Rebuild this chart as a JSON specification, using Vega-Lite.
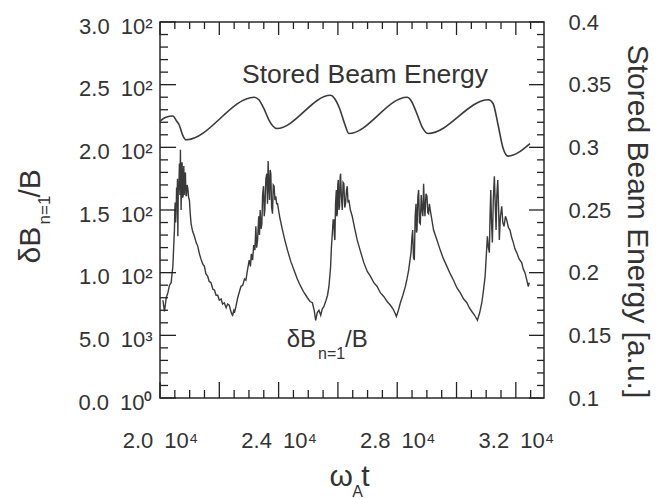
{
  "$schema": "https://vega.github.io/schema/vega-lite/v6.json",
  "width": 384,
  "height": 376,
  "autosize": "none",
  "padding": {"left": 160, "top": 22, "right": 123, "bottom": 101},
  "background": "white",
  "config": {
    "view": {"stroke": "#2a2a2a", "strokeWidth": 1.5},
    "font": "Liberation Sans",
    "axis": {
      "domain": false, "grid": false, "ticks": false,
      "labelColor": "#333", "titleColor": "#333", "labelFont": "Liberation Sans",
      "titleFont": "Liberation Sans", "titleFontWeight": "normal", "labelFontSize": 22,
      "labelOverlap": false, "labelFlush": false, "titleAnchor": null
    }
  },
  "datasets": {
    "db": [
      {"t":20097,"v":0.78},{"t":20151,"v":0.69},{"t":20210,"v":0.80},{"t":20266,"v":0.84},{"t":20320,"v":0.90},{"t":20376,"v":0.92},{"t":20410,"v":1.00},{"t":20434,"v":1.05},{"t":20460,"v":1.20},{"t":20487,"v":1.34},{"t":20500,"v":1.50},{"t":20511,"v":1.56},{"t":20528,"v":1.40},{"t":20544,"v":1.48},{"t":20560,"v":1.68},{"t":20578,"v":1.61},{"t":20590,"v":1.75},{"t":20602,"v":1.29},{"t":20618,"v":1.72},{"t":20635,"v":1.66},{"t":20655,"v":1.87},{"t":20672,"v":1.62},{"t":20689,"v":1.98},{"t":20700,"v":1.70},{"t":20713,"v":1.50},{"t":20730,"v":1.85},{"t":20746,"v":1.88},{"t":20762,"v":1.60},{"t":20780,"v":1.61},{"t":20792,"v":1.80},{"t":20803,"v":1.85},{"t":20815,"v":1.62},{"t":20823,"v":1.66},{"t":20840,"v":1.78},{"t":20857,"v":1.80},{"t":20874,"v":1.62},{"t":20891,"v":1.61},{"t":20915,"v":1.70},{"t":20938,"v":1.67},{"t":20965,"v":1.60},{"t":20991,"v":1.58},{"t":21020,"v":1.47},{"t":21049,"v":1.39},{"t":21100,"v":1.33},{"t":21160,"v":1.29},{"t":21220,"v":1.24},{"t":21274,"v":1.21},{"t":21330,"v":1.15},{"t":21380,"v":1.11},{"t":21440,"v":1.07},{"t":21496,"v":1.05},{"t":21550,"v":0.99},{"t":21610,"v":0.97},{"t":21660,"v":0.93},{"t":21721,"v":0.92},{"t":21780,"v":0.87},{"t":21840,"v":0.86},{"t":21890,"v":0.82},{"t":21946,"v":0.82},{"t":22000,"v":0.78},{"t":22060,"v":0.79},{"t":22110,"v":0.75},{"t":22168,"v":0.76},{"t":22230,"v":0.72},{"t":22280,"v":0.75},{"t":22336,"v":0.74},{"t":22380,"v":0.70},{"t":22420,"v":0.67},{"t":22450,"v":0.66},{"t":22490,"v":0.70},{"t":22520,"v":0.69},{"t":22561,"v":0.73},{"t":22620,"v":0.80},{"t":22680,"v":0.85},{"t":22729,"v":0.89},{"t":22790,"v":0.90},{"t":22850,"v":0.95},{"t":22897,"v":0.94},{"t":22950,"v":1.02},{"t":23008,"v":1.10},{"t":23050,"v":1.05},{"t":23080,"v":1.15},{"t":23122,"v":1.10},{"t":23160,"v":1.22},{"t":23200,"v":1.18},{"t":23233,"v":1.37},{"t":23260,"v":1.20},{"t":23290,"v":1.26},{"t":23330,"v":1.45},{"t":23355,"v":1.30},{"t":23378,"v":1.50},{"t":23410,"v":1.35},{"t":23435,"v":1.39},{"t":23460,"v":1.62},{"t":23492,"v":1.69},{"t":23515,"v":1.45},{"t":23536,"v":1.50},{"t":23570,"v":1.75},{"t":23603,"v":1.79},{"t":23625,"v":1.55},{"t":23647,"v":1.89},{"t":23670,"v":1.70},{"t":23694,"v":1.58},{"t":23715,"v":1.82},{"t":23737,"v":1.79},{"t":23765,"v":1.52},{"t":23795,"v":1.47},{"t":23820,"v":1.70},{"t":23848,"v":1.69},{"t":23875,"v":1.58},{"t":23905,"v":1.61},{"t":23935,"v":1.55},{"t":23963,"v":1.55},{"t":24040,"v":1.44},{"t":24131,"v":1.34},{"t":24210,"v":1.26},{"t":24299,"v":1.18},{"t":24410,"v":1.09},{"t":24521,"v":1.02},{"t":24630,"v":0.95},{"t":24746,"v":0.89},{"t":24860,"v":0.84},{"t":24971,"v":0.80},{"t":25060,"v":0.77},{"t":25139,"v":0.76},{"t":25200,"v":0.70},{"t":25250,"v":0.62},{"t":25300,"v":0.68},{"t":25361,"v":0.70},{"t":25420,"v":0.66},{"t":25470,"v":0.71},{"t":25529,"v":0.73},{"t":25600,"v":0.78},{"t":25650,"v":0.82},{"t":25697,"v":0.89},{"t":25730,"v":0.98},{"t":25754,"v":1.05},{"t":25780,"v":1.20},{"t":25811,"v":1.31},{"t":25840,"v":1.42},{"t":25865,"v":1.42},{"t":25880,"v":1.30},{"t":25898,"v":1.26},{"t":25920,"v":1.55},{"t":25946,"v":1.66},{"t":25962,"v":1.45},{"t":25979,"v":1.47},{"t":25995,"v":1.70},{"t":26013,"v":1.74},{"t":26035,"v":1.50},{"t":26057,"v":1.53},{"t":26075,"v":1.76},{"t":26090,"v":1.79},{"t":26115,"v":1.62},{"t":26147,"v":1.50},{"t":26175,"v":1.72},{"t":26201,"v":1.71},{"t":26230,"v":1.52},{"t":26258,"v":1.55},{"t":26290,"v":1.66},{"t":26315,"v":1.69},{"t":26340,"v":1.56},{"t":26369,"v":1.58},{"t":26420,"v":1.50},{"t":26483,"v":1.45},{"t":26560,"v":1.36},{"t":26651,"v":1.26},{"t":26760,"v":1.17},{"t":26873,"v":1.08},{"t":26990,"v":1.01},{"t":27098,"v":0.97},{"t":27210,"v":0.92},{"t":27323,"v":0.89},{"t":27430,"v":0.84},{"t":27545,"v":0.81},{"t":27660,"v":0.77},{"t":27771,"v":0.74},{"t":27860,"v":0.71},{"t":27920,"v":0.68},{"t":27972,"v":0.65},{"t":28040,"v":0.70},{"t":28107,"v":0.76},{"t":28190,"v":0.82},{"t":28275,"v":0.89},{"t":28330,"v":0.95},{"t":28386,"v":1.02},{"t":28430,"v":1.10},{"t":28466,"v":1.16},{"t":28495,"v":1.28},{"t":28520,"v":1.34},{"t":28550,"v":1.12},{"t":28577,"v":1.10},{"t":28605,"v":1.45},{"t":28634,"v":1.55},{"t":28650,"v":1.32},{"t":28668,"v":1.34},{"t":28695,"v":1.60},{"t":28722,"v":1.66},{"t":28750,"v":1.40},{"t":28779,"v":1.39},{"t":28810,"v":1.62},{"t":28836,"v":1.50},{"t":28865,"v":1.45},{"t":28890,"v":1.71},{"t":28915,"v":1.52},{"t":28937,"v":1.45},{"t":28970,"v":1.63},{"t":29004,"v":1.61},{"t":29030,"v":1.48},{"t":29058,"v":1.47},{"t":29085,"v":1.55},{"t":29115,"v":1.50},{"t":29170,"v":1.42},{"t":29226,"v":1.34},{"t":29340,"v":1.26},{"t":29451,"v":1.18},{"t":29560,"v":1.11},{"t":29676,"v":1.05},{"t":29790,"v":0.99},{"t":29898,"v":0.94},{"t":30010,"v":0.88},{"t":30123,"v":0.84},{"t":30240,"v":0.79},{"t":30348,"v":0.76},{"t":30430,"v":0.72},{"t":30517,"v":0.69},{"t":30610,"v":0.66},{"t":30705,"v":0.62},{"t":30780,"v":0.68},{"t":30853,"v":0.76},{"t":30910,"v":0.86},{"t":30964,"v":0.97},{"t":31000,"v":1.12},{"t":31041,"v":1.29},{"t":31075,"v":1.20},{"t":31108,"v":1.16},{"t":31130,"v":1.45},{"t":31155,"v":1.66},{"t":31180,"v":1.40},{"t":31209,"v":1.24},{"t":31240,"v":1.58},{"t":31276,"v":1.77},{"t":31305,"v":1.55},{"t":31334,"v":1.34},{"t":31360,"v":1.62},{"t":31391,"v":1.74},{"t":31420,"v":1.50},{"t":31444,"v":1.26},{"t":31480,"v":1.45},{"t":31525,"v":1.53},{"t":31560,"v":1.40},{"t":31602,"v":1.37},{"t":31650,"v":1.45},{"t":31693,"v":1.42},{"t":31750,"v":1.36},{"t":31804,"v":1.34},{"t":31860,"v":1.28},{"t":31915,"v":1.24},{"t":31970,"v":1.19},{"t":32029,"v":1.16},{"t":32110,"v":1.11},{"t":32197,"v":1.08},{"t":32250,"v":1.03},{"t":32308,"v":1.00},{"t":32360,"v":0.95},{"t":32419,"v":0.89},{"t":32453,"v":0.92}
    ],
    "energy": [
      {"t":20000,"e":0.321},{"t":20200,"e":0.324},{"t":20434,"e":0.325},{"t":20560,"e":0.321},{"t":20645,"e":0.318},{"t":20760,"e":0.310},{"t":20880,"e":0.306},{"t":23176,"e":0.340},{"t":23334,"e":0.338},{"t":23502,"e":0.331},{"t":23670,"e":0.322},{"t":23805,"e":0.317},{"t":23940,"e":0.315},{"t":25754,"e":0.3415},{"t":25888,"e":0.339},{"t":26056,"e":0.331},{"t":26224,"e":0.319},{"t":26369,"e":0.311},{"t":28332,"e":0.340},{"t":28476,"e":0.337},{"t":28644,"e":0.328},{"t":28846,"e":0.316},{"t":29048,"e":0.311},{"t":31074,"e":0.338},{"t":31232,"e":0.335},{"t":31400,"e":0.318},{"t":31568,"e":0.2995},{"t":31736,"e":0.293},{"t":32476,"e":0.303}
    ],
    "energyLabel": [{"t":26914,"e":0.351,"label":"Stored Beam Energy"}],
    "dbLabel": [
      {"t":24273,"v":0.409,"label":"δB"},
      {"t":25329,"v":0.311,"label":"n=1"},
      {"t":26240,"v":0.409,"label":"/B"}
    ],
    "xticks": [
      {"t":20000,"major":true},{"t":20500,"major":false},{"t":21000,"major":false},{"t":21500,"major":false},{"t":22000,"major":true},{"t":22500,"major":false},{"t":23000,"major":false},{"t":23500,"major":false},{"t":24000,"major":true},{"t":24500,"major":false},{"t":25000,"major":false},{"t":25500,"major":false},{"t":26000,"major":true},{"t":26500,"major":false},{"t":27000,"major":false},{"t":27500,"major":false},{"t":28000,"major":true},{"t":28500,"major":false},{"t":29000,"major":false},{"t":29500,"major":false},{"t":30000,"major":true},{"t":30500,"major":false},{"t":31000,"major":false},{"t":31500,"major":false},{"t":32000,"major":true},{"t":32500,"major":false}
    ],
    "yleftTicks": [
      {"v":0,"major":true},{"v":0.1,"major":false},{"v":0.2,"major":false},{"v":0.3,"major":false},{"v":0.4,"major":false},{"v":0.5,"major":true},{"v":0.6,"major":false},{"v":0.7,"major":false},{"v":0.8,"major":false},{"v":0.9,"major":false},{"v":1.0,"major":true},{"v":1.1,"major":false},{"v":1.2,"major":false},{"v":1.3,"major":false},{"v":1.4,"major":false},{"v":1.5,"major":true},{"v":1.6,"major":false},{"v":1.7,"major":false},{"v":1.8,"major":false},{"v":1.9,"major":false},{"v":2.0,"major":true},{"v":2.1,"major":false},{"v":2.2,"major":false},{"v":2.3,"major":false},{"v":2.4,"major":false},{"v":2.5,"major":true},{"v":2.6,"major":false},{"v":2.7,"major":false},{"v":2.8,"major":false},{"v":2.9,"major":false},{"v":3.0,"major":true}
    ],
    "yrightTicks": [
      {"e":0.10,"major":true},{"e":0.11,"major":false},{"e":0.12,"major":false},{"e":0.13,"major":false},{"e":0.14,"major":false},{"e":0.15,"major":true},{"e":0.16,"major":false},{"e":0.17,"major":false},{"e":0.18,"major":false},{"e":0.19,"major":false},{"e":0.20,"major":true},{"e":0.21,"major":false},{"e":0.22,"major":false},{"e":0.23,"major":false},{"e":0.24,"major":false},{"e":0.25,"major":true},{"e":0.26,"major":false},{"e":0.27,"major":false},{"e":0.28,"major":false},{"e":0.29,"major":false},{"e":0.30,"major":true},{"e":0.31,"major":false},{"e":0.32,"major":false},{"e":0.33,"major":false},{"e":0.34,"major":false},{"e":0.35,"major":true},{"e":0.36,"major":false},{"e":0.37,"major":false},{"e":0.38,"major":false},{"e":0.39,"major":false},{"e":0.40,"major":true}
    ]
  },
  "resolve": {"scale": {"y": "independent"}, "axis": {"x": "independent", "y": "independent"}},
  "layer": [
    {
      "data": {"name": "db"},
      "mark": {"type": "line", "color": "#3a3a3a", "strokeWidth": 1.4},
      "encoding": {
        "x": {
          "field": "t", "type": "quantitative",
          "scale": {"domain": [20000, 32950], "nice": false, "zero": false},
          "axis": {
            "orient": "bottom", "ticks": false, "domain": false,
            "values": [20000,24000,28000,32000],
            "labelExpr": "format(datum.value/10000, '.1f') + '\u200210⁴'",
            "labelPadding": 32, "labelBaseline": "top",
            "title": "ω\u00a0t", "titleFontSize": 30, "titleX": 189, "titleY": 87,
            "titleBaseline": "alphabetic", "titleAlign": "center"
          }
        },
        "y": {
          "field": "v", "type": "quantitative",
          "scale": {"domain": [0, 3], "nice": false},
          "axis": {
            "orient": "left", "ticks": false, "domain": false,
            "values": [0,0.5,1.0,1.5,2.0,2.5,3.0],
            "labelExpr": "datum.value == 0 ? '0.0\u200210⁰' : (abs(datum.value - 0.5) < 0.001 ? '5.0\u200210³' : format(datum.value, '.1f') + '\u200210²')",
            "labelPadding": 8, "labelOffset": 4,
            "title": "δB", "titleFontSize": 30, "titleX": -121, "titleY": 241,
            "titleAngle": -90, "titleBaseline": "alphabetic", "titleAlign": "left"
          }
        }
      }
    },
    {
      "data": {"name": "energy"},
      "mark": {"type": "line", "color": "#3a3a3a", "strokeWidth": 1.6, "interpolate": "monotone"},
      "encoding": {
        "x": {"field": "t", "type": "quantitative", "scale": {"domain": [20000, 32950], "nice": false, "zero": false}, "axis": null},
        "y": {
          "field": "e", "type": "quantitative",
          "scale": {"domain": [0.1, 0.4], "nice": false, "zero": false},
          "axis": {
            "orient": "right", "ticks": false, "domain": false,
            "values": [0.1,0.15,0.2,0.25,0.3,0.35,0.4],
            "labelExpr": "format(datum.value, '~g')",
            "labelPadding": 24,
            "title": "Stored Beam Energy [a.u.]", "titleFontSize": 30, "titleX": 83, "titleY": 199,
            "titleAngle": 90, "titleBaseline": "alphabetic", "titleAlign": "center"
          }
        }
      }
    },
    {
      "data": {"name": "energyLabel"},
      "mark": {"type": "text", "align": "center", "baseline": "alphabetic", "fontSize": 26.5, "color": "#333", "font": "Liberation Sans"},
      "encoding": {
        "x": {
          "field": "t", "type": "quantitative",
          "scale": {"domain": [20000, 32950], "nice": false, "zero": false},
          "axis": {
            "orient": "bottom", "ticks": false, "labels": false, "domain": false,
            "title": "A", "titleFontSize": 16, "titleX": 197, "titleY": 98,
            "titleBaseline": "alphabetic", "titleAlign": "center"
          }
        },
        "y": {
          "field": "e", "type": "quantitative",
          "scale": {"domain": [0.1, 0.4], "nice": false, "zero": false},
          "axis": {
            "orient": "left", "domain": false, "ticks": false, "labels": false,
            "title": "/B", "titleFontSize": 30, "titleX": -121, "titleY": 175,
            "titleAngle": -90, "titleBaseline": "alphabetic", "titleAlign": "left"
          }
        },
        "text": {"field": "label"}
      }
    },
    {
      "data": {"name": "dbLabel"},
      "mark": {"type": "text", "align": "left", "baseline": "alphabetic", "color": "#333", "font": "Liberation Sans"},
      "encoding": {
        "x": {"field": "t", "type": "quantitative", "scale": {"domain": [20000, 32950], "nice": false, "zero": false}, "axis": null},
        "y": {
          "field": "v", "type": "quantitative",
          "scale": {"domain": [0, 3], "nice": false},
          "axis": {
            "orient": "left", "domain": false, "ticks": false, "labels": false,
            "title": "n=1", "titleFontSize": 17, "titleX": -111, "titleY": 202,
            "titleAngle": -90, "titleBaseline": "alphabetic", "titleAlign": "left"
          }
        },
        "text": {"field": "label"},
        "size": {"condition": {"test": "datum.label === 'n=1'", "value": 16}, "value": 24}
      }
    },
    {
      "data": {"name": "xticks"},
      "transform": [{"filter": "datum.major"}],
      "mark": {"type": "tick", "orient": "vertical", "color": "#222", "thickness": 1.3, "size": 16, "opacity": 1},
      "encoding": {
        "x": {"field": "t", "type": "quantitative", "scale": {"domain": [20000, 32950], "nice": false, "zero": false}, "axis": null},
        "y": {"datum": 0.0638, "type": "quantitative", "scale": {"domain": [0, 3], "nice": false}, "axis": null}
      }
    },
    {
      "data": {"name": "xticks"},
      "transform": [{"filter": "!datum.major"}],
      "mark": {"type": "tick", "orient": "vertical", "color": "#222", "thickness": 1.3, "size": 8, "opacity": 1},
      "encoding": {
        "x": {"field": "t", "type": "quantitative", "scale": {"domain": [20000, 32950], "nice": false, "zero": false}, "axis": null},
        "y": {"datum": 0.0319, "type": "quantitative", "scale": {"domain": [0, 3], "nice": false}, "axis": null}
      }
    },
    {
      "data": {"name": "xticks"},
      "transform": [{"filter": "datum.major"}],
      "mark": {"type": "tick", "orient": "vertical", "color": "#222", "thickness": 1.3, "size": 13, "opacity": 1},
      "encoding": {
        "x": {"field": "t", "type": "quantitative", "scale": {"domain": [20000, 32950], "nice": false, "zero": false}, "axis": null},
        "y": {"datum": 2.9481, "type": "quantitative", "scale": {"domain": [0, 3], "nice": false}, "axis": null}
      }
    },
    {
      "data": {"name": "xticks"},
      "transform": [{"filter": "!datum.major"}],
      "mark": {"type": "tick", "orient": "vertical", "color": "#222", "thickness": 1.3, "size": 7, "opacity": 1},
      "encoding": {
        "x": {"field": "t", "type": "quantitative", "scale": {"domain": [20000, 32950], "nice": false, "zero": false}, "axis": null},
        "y": {"datum": 2.9721, "type": "quantitative", "scale": {"domain": [0, 3], "nice": false}, "axis": null}
      }
    },
    {
      "data": {"name": "yleftTicks"},
      "transform": [{"filter": "datum.major"}],
      "mark": {"type": "tick", "orient": "horizontal", "color": "#222", "thickness": 1.3, "size": 16, "opacity": 1},
      "encoding": {
        "y": {"field": "v", "type": "quantitative", "scale": {"domain": [0, 3], "nice": false}, "axis": null},
        "x": {"datum": 20270, "type": "quantitative", "scale": {"domain": [20000, 32950], "nice": false, "zero": false}, "axis": null}
      }
    },
    {
      "data": {"name": "yleftTicks"},
      "transform": [{"filter": "!datum.major"}],
      "mark": {"type": "tick", "orient": "horizontal", "color": "#222", "thickness": 1.3, "size": 8, "opacity": 1},
      "encoding": {
        "y": {"field": "v", "type": "quantitative", "scale": {"domain": [0, 3], "nice": false}, "axis": null},
        "x": {"datum": 20135, "type": "quantitative", "scale": {"domain": [20000, 32950], "nice": false, "zero": false}, "axis": null}
      }
    },
    {
      "data": {"name": "yrightTicks"},
      "transform": [{"filter": "datum.major"}],
      "mark": {"type": "tick", "orient": "horizontal", "color": "#222", "thickness": 1.3, "size": 15, "opacity": 1},
      "encoding": {
        "y": {"field": "e", "type": "quantitative", "scale": {"domain": [0.1, 0.4], "nice": false, "zero": false}, "axis": null},
        "x": {"datum": 32697, "type": "quantitative", "scale": {"domain": [20000, 32950], "nice": false, "zero": false}, "axis": null}
      }
    },
    {
      "data": {"name": "yrightTicks"},
      "transform": [{"filter": "!datum.major"}],
      "mark": {"type": "tick", "orient": "horizontal", "color": "#222", "thickness": 1.3, "size": 7, "opacity": 1},
      "encoding": {
        "y": {"field": "e", "type": "quantitative", "scale": {"domain": [0.1, 0.4], "nice": false, "zero": false}, "axis": null},
        "x": {"datum": 32832, "type": "quantitative", "scale": {"domain": [20000, 32950], "nice": false, "zero": false}, "axis": null}
      }
    }
  ]
}
